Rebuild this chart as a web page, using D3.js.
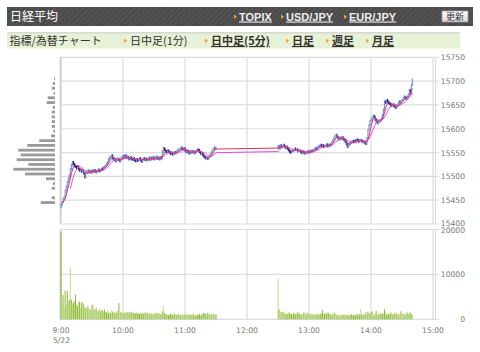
<!DOCTYPE html>
<html>
<head>
<meta charset="utf-8">
<script src="https://cdn.jsdelivr.net/npm/d3@7"></script>
<style>
  body { margin: 0; background: #fff; }
  svg { display: block; }
</style>
</head>
<body>
<div id="chart"></div>
<script>
// ========================
// Data (minutes counted from 9:00)
// ========================
const morningStart = 0;      // 9:00
const afternoonStart = 210;  // 12:30

const morningClose = [
  15440, 15446, 15452, 15457, 15470, 15478, 15488, 15495, 15503, 15515,
  15524, 15530, 15526, 15522, 15520, 15518, 15521, 15515, 15512, 15514,
  15510, 15512, 15506, 15498, 15508, 15510, 15512, 15509, 15511, 15508,
  15512, 15510, 15513, 15510, 15509, 15512, 15514, 15511, 15513, 15516,
  15515, 15519, 15520, 15522, 15526, 15530, 15536, 15540, 15541, 15544,
  15538, 15534, 15536, 15532, 15535, 15537, 15534, 15532, 15538, 15541,
  15543, 15540, 15544, 15539, 15541, 15538, 15536, 15540, 15537, 15535,
  15538, 15534, 15532, 15536, 15533, 15535, 15538, 15534, 15531, 15536,
  15538, 15535, 15537, 15534, 15536, 15539, 15535, 15539, 15537, 15540,
  15536, 15538, 15541, 15537, 15539, 15536, 15540, 15538, 15552, 15559,
  15556, 15553, 15551, 15554, 15552, 15550, 15547, 15549, 15546, 15548,
  15551, 15549, 15553, 15555, 15557, 15557, 15560, 15558, 15556, 15559,
  15554, 15551, 15553, 15551, 15548, 15550, 15553, 15551, 15552, 15549,
  15552, 15554, 15556, 15555, 15551, 15548, 15548, 15545, 15542, 15540,
  15538, 15539, 15537, 15541, 15545, 15548, 15553, 15557, 15560, 15558,
  15559
];

const afternoonClose = [
  15563, 15560, 15565, 15562, 15564, 15566, 15563, 15560, 15562, 15558,
  15555, 15552, 15550, 15553, 15555, 15555, 15558, 15556, 15556, 15553,
  15554, 15554, 15551, 15549, 15552, 15550, 15548, 15551, 15552, 15550,
  15553, 15551, 15554, 15553, 15555, 15557, 15559, 15557, 15561, 15563,
  15564, 15566, 15563, 15565, 15562, 15564, 15564, 15567, 15563, 15566,
  15565, 15567, 15572, 15576, 15580, 15584, 15587, 15583, 15580, 15578,
  15581, 15579, 15582, 15578, 15576, 15573, 15568, 15562, 15566, 15570,
  15571, 15573, 15574, 15572, 15575, 15574, 15577, 15576, 15573, 15575,
  15576, 15574, 15572, 15573, 15570, 15568, 15580, 15597, 15608, 15616,
  15620, 15623, 15627, 15625, 15619, 15615, 15612, 15614, 15616, 15618,
  15622, 15629, 15640, 15657, 15655, 15660, 15657, 15654, 15652, 15650,
  15648, 15650, 15648, 15646, 15644, 15648, 15652, 15657, 15655, 15658,
  15660, 15664, 15667, 15665, 15663, 15667, 15672, 15681, 15675, 15692,
  15703
];

const morningVolume = [
  19400, 4100, 5400, 2500, 6400, 3200, 6300, 3800, 4300, 11500,
  4400, 3500, 3800, 4200, 5500, 3300, 2900, 3700, 4000, 2600,
  3800, 3900, 3300, 2600, 2500, 2400, 3000, 2100, 2300, 2000,
  3200, 3400, 2200, 2100, 2500, 2000, 1800, 2400, 1900, 1800,
  2100, 1600, 2200, 1700, 1500, 1900, 1400, 1600, 1300, 2000,
  1700, 1500, 1400, 1800, 1500, 1900, 3600, 1400, 1600, 1500,
  1300, 1800, 1400, 1500, 1600, 1300, 1700, 1400, 1600, 1200,
  1500, 1400, 1300, 1600, 1200, 1500, 1300, 1400, 1200, 1500,
  1300, 1600, 1400, 1200, 1500, 1100, 1300, 1400, 1200, 1100,
  1300, 1200, 1500, 1100, 1400, 1300, 1200, 1000, 1800, 3000,
  1400, 1200, 1000, 1100, 900, 1000, 1200, 900, 1100, 1000,
  1300, 900, 1000, 1200, 1100, 800, 1000, 1300, 900, 1100,
  1000, 1200, 900, 1300, 1000, 1100, 1000, 900, 1200, 1000,
  800, 1000, 900, 1100, 1200, 800, 1000, 1300, 1400, 1200,
  1300, 1100, 1400, 1300, 1000, 1200, 1100, 1000, 1200, 1000,
  1100
];

const afternoonVolume = [
  9100, 2200, 1400, 1600, 1500, 1700, 1300, 1200, 1400, 1100,
  1600, 1300, 1400, 1200, 1000, 1300, 1500, 1100, 1200, 1600,
  1400, 1200, 1300, 1000, 1200, 1500, 1100, 1300, 900, 1400,
  1200, 1000, 1300, 1100, 1200, 900, 1300, 1000, 1200, 1100,
  1000, 1200, 1400, 2100, 1300, 1100, 1500, 1200, 1600, 1400,
  1200, 1000, 1300, 1100, 1500, 1300, 1200, 900, 1100, 800,
  900, 1000, 800, 1100, 900, 1000, 1100, 900, 800, 1000,
  900, 1200, 1000, 900, 1100, 800, 1000, 1200, 900, 1100,
  2300, 1100, 900, 1000, 1300, 1500, 1000, 1700, 1200, 1400,
  1000, 1800, 1100, 900, 1300, 1900, 1000, 1200, 900, 1400,
  1100, 1300, 1200, 2300, 1500, 1000, 1300, 1200, 1100, 1500,
  1300, 1000, 1400, 1200, 1600, 1100, 1300, 900, 1200, 1800,
  1300, 1100, 1400, 1000, 1200, 1500, 1100, 1300, 1700, 1200,
  1000
];

// price-by-volume profile (10-yen buckets, lower bound)
const profileLevels = [
  15700, 15690, 15680, 15670, 15660, 15650, 15640, 15630, 15620,
  15610, 15600, 15590, 15580, 15570, 15560, 15550, 15540, 15530,
  15520, 15510, 15500, 15490, 15480, 15470, 15460, 15450, 15440
];
const profileVolume = [
  10, 23, 33, 15, 73, 83, 23, 33, 33,
  33, 33, 17, 40, 157, 277, 367, 343, 383,
  267, 417, 300, 90, 20, 33, 0, 33, 143
];

const priceTicks = [15400, 15450, 15500, 15550, 15600, 15650, 15700, 15750];
const volumeTicks = [0, 10000, 20000];
const timeTickMinutes = [0, 60, 120, 180, 240, 300, 360];
const timeTickLabels = ["9:00", "10:00", "11:00", "12:00", "13:00", "14:00", "15:00"];
const dateLabel = "5/22";

const headerLinks = ["TOPIX", "USD/JPY", "EUR/JPY"];
const tabLabels = ["日中足(1分)", "日中足(5分)", "日足", "週足", "月足"];

// ========================
// Build rows
// ========================
const rows = [];
morningClose.forEach((c, i) => rows.push({ m: morningStart + i, close: c, vol: morningVolume[i] }));
afternoonClose.forEach((c, i) => rows.push({ m: afternoonStart + i, close: c, vol: afternoonVolume[i] }));
rows.forEach((d, i) => {
  const prev = rows[i - 1];
  d.open = prev ? prev.close : d.close - 4;
});

function movingAverage(n, partial) {
  return rows.map((d, i) => {
    if (i < n - 1 && !partial) return null;
    const win = rows.slice(Math.max(0, i - n + 1), i + 1);
    return { m: d.m, v: d3.mean(win, w => w.close) };
  }).filter(d => d);
}
const maShort = movingAverage(5, true);
const maLong = movingAverage(10, false);

// ========================
// Setup
// ========================
const width = 480, height = 352;
const plotLeft = 61, plotRight = 433;

const svg = d3.select("#chart").append("svg")
  .attr("width", width)
  .attr("height", height);

const x = d3.scaleLinear().domain([0, 360]).range([plotLeft, plotRight]);
const yPrice = d3.scaleLinear().domain([15400, 15750]).range([224, 57.3]);
const yVol = d3.scaleLinear().domain([0, 20000]).range([319.3, 229.5]);
const profileX = d3.scaleLinear().domain([0, d3.max(profileVolume)]).range([0, 41.7]);

const jp = "'Noto Sans CJK JP', sans-serif";
const axisFont = "'DejaVu Sans', sans-serif";

// ========================
// Header bars
// ========================
const defs = svg.append("defs");
const pat = defs.append("pattern")
  .attr("id", "stripes")
  .attr("width", 4).attr("height", 4)
  .attr("patternUnits", "userSpaceOnUse")
  .attr("patternTransform", "rotate(45)");
pat.append("rect").attr("width", 4).attr("height", 4).attr("fill", "#4a4a4a");
pat.append("rect").attr("width", 1.5).attr("height", 4).attr("fill", "#555");

const btnGrad = defs.append("linearGradient")
  .attr("id", "btn").attr("x1", 0).attr("y1", 0).attr("x2", 0).attr("y2", 1);
btnGrad.append("stop").attr("offset", 0).attr("stop-color", "#ffffff");
btnGrad.append("stop").attr("offset", 1).attr("stop-color", "#d8d8d8");

svg.append("rect")
  .attr("x", 7).attr("y", 7).attr("width", 466).attr("height", 19)
  .attr("fill", "url(#stripes)");

svg.append("text")
  .attr("x", 10).attr("y", 20.8)
  .style("font-family", jp).style("font-size", "12px")
  .attr("fill", "#fff")
  .text("日経平均");

const linkX = [239, 286, 349];
headerLinks.forEach((t, i) => {
  svg.append("path")
    .attr("d", `M${linkX[i] - 5},${14.5} l3,2.2 l-3,2.2 z`)
    .attr("fill", "#f0a030");
  svg.append("text")
    .attr("x", linkX[i]).attr("y", 20.5)
    .style("font-family", "'Liberation Sans', Arial, sans-serif")
    .style("font-size", "11px").style("font-weight", "bold")
    .attr("text-decoration", "underline")
    .attr("fill", "#eeeeee")
    .text(t);
});

svg.append("rect")
  .attr("x", 442).attr("y", 11).attr("width", 26).attr("height", 11)
  .attr("fill", "url(#btn)").attr("stroke", "#999").attr("stroke-width", 0.8);
svg.append("text")
  .attr("x", 455).attr("y", 19.8).attr("text-anchor", "middle")
  .style("font-family", jp).style("font-size", "9px")
  .attr("fill", "#333")
  .text("更新");

// second row
svg.append("rect")
  .attr("x", 7).attr("y", 33).attr("width", 453).attr("height", 15.5)
  .attr("fill", "#e6f1d5");
svg.append("line")
  .attr("x1", 7).attr("x2", 460).attr("y1", 32.8).attr("y2", 32.8)
  .attr("stroke", "#c8c8c8");

svg.append("text")
  .attr("x", 9.5).attr("y", 45)
  .style("font-family", jp).style("font-size", "11px")
  .attr("fill", "#333")
  .text("指標/為替チャート");

const tabX = [130, 211, 292, 332, 372];
tabLabels.forEach((t, i) => {
  svg.append("path")
    .attr("d", `M${tabX[i] - 6},${38.5} l3,2.2 l-3,2.2 z`)
    .attr("fill", "#f0a030");
  svg.append("text")
    .attr("x", tabX[i]).attr("y", 45)
    .style("font-family", jp).style("font-size", "11px")
    .style("font-weight", i === 0 ? "normal" : "bold")
    .attr("text-decoration", i === 0 ? null : "underline")
    .attr("fill", "#333")
    .text(t);
});

// ========================
// Grids / frames
// ========================
const grid = svg.append("g").attr("stroke", "#dcdcdc").attr("stroke-width", 1.2);

// price panel
priceTicks.forEach(p => {
  grid.append("line")
    .attr("x1", plotLeft - 1).attr("x2", 439)
    .attr("y1", yPrice(p)).attr("y2", yPrice(p));
});
timeTickMinutes.forEach(m => {
  grid.append("line")
    .attr("x1", x(m)).attr("x2", x(m))
    .attr("y1", yPrice(15750)).attr("y2", yPrice(15400));
  grid.append("line")
    .attr("x1", x(m)).attr("x2", x(m))
    .attr("y1", yVol(20000)).attr("y2", yVol(0));
});
// right borders
grid.append("line").attr("x1", 435.5).attr("x2", 435.5)
  .attr("y1", yPrice(15750)).attr("y2", yPrice(15400));
grid.append("line").attr("x1", 435.5).attr("x2", 435.5)
  .attr("y1", yVol(20000)).attr("y2", yVol(0));
// left borders (thicker)
svg.append("line").attr("x1", plotLeft - 0.5).attr("x2", plotLeft - 0.5)
  .attr("y1", yPrice(15750)).attr("y2", yPrice(15400))
  .attr("stroke", "#d4d4d4").attr("stroke-width", 2);
svg.append("line").attr("x1", plotLeft - 0.5).attr("x2", plotLeft - 0.5)
  .attr("y1", yVol(20000)).attr("y2", yVol(0))
  .attr("stroke", "#d4d4d4").attr("stroke-width", 2);

// volume panel
volumeTicks.forEach(v => {
  grid.append("line")
    .attr("x1", plotLeft - 1).attr("x2", 439)
    .attr("y1", yVol(v)).attr("y2", yVol(v));
});

// ========================
// Axis labels
// ========================
const labels = svg.append("g")
  .style("font-family", axisFont).style("font-size", "7.6px")
  .attr("fill", "#777").attr("text-anchor", "end");

priceTicks.forEach(p => {
  labels.append("text").attr("x", 465).attr("y", yPrice(p) + (p === 15400 ? 2 : 3)).text(p);
});
volumeTicks.forEach(v => {
  labels.append("text").attr("x", 465).attr("y", yVol(v) + (v === 20000 ? 3.5 : 3)).text(v);
});
timeTickMinutes.forEach((m, i) => {
  labels.append("text").attr("x", x(m)).attr("y", 333)
    .attr("text-anchor", "middle").text(timeTickLabels[i]);
});
labels.append("text").attr("x", x(0) + 0.5).attr("y", 342.5)
  .attr("text-anchor", "middle").text(dateLabel);

// ========================
// Volume profile (left)
// ========================
svg.append("g").selectAll("rect")
  .data(profileLevels.map((l, i) => ({ level: l, v: profileVolume[i] })).filter(d => d.v > 0))
  .join("rect")
  .attr("x", d => 55 - profileX(d.v))
  .attr("y", d => yPrice(d.level + 5) - 1.4)
  .attr("width", d => profileX(d.v))
  .attr("height", 2.8)
  .attr("fill", "#9a9a9a");

// ========================
// Volume bars
// ========================
svg.append("g").selectAll("rect")
  .data(rows)
  .join("rect")
  .attr("x", d => x(d.m) - 0.5)
  .attr("y", d => yVol(d.vol))
  .attr("width", 1.03)
  .attr("height", d => yVol(0) - yVol(d.vol))
  .attr("fill", (d, i) => i % 2 ? "#c0da8c" : "#8fba38");

// ========================
// Candles
// ========================
svg.append("g").selectAll("rect")
  .data(rows)
  .join("rect")
  .attr("x", d => x(d.m) - 0.5)
  .attr("y", d => yPrice(Math.max(d.open, d.close)) - 1.2)
  .attr("width", 1.1)
  .attr("height", d => Math.abs(yPrice(d.open) - yPrice(d.close)) + 2.4)
  .attr("fill", d => d.close >= d.open ? "#6f92da" : "#22308c");

// ========================
// Moving averages
// ========================
const line = d3.line().x(d => x(d.m)).y(d => yPrice(d.v));

svg.append("path")
  .datum(maLong)
  .attr("d", line)
  .attr("fill", "none")
  .attr("stroke", "#e34ce8")
  .attr("stroke-width", 1);

svg.append("path")
  .datum(maShort)
  .attr("d", line)
  .attr("fill", "none")
  .attr("stroke", "#e0344f")
  .attr("stroke-width", 1);
</script>
</body>
</html>
